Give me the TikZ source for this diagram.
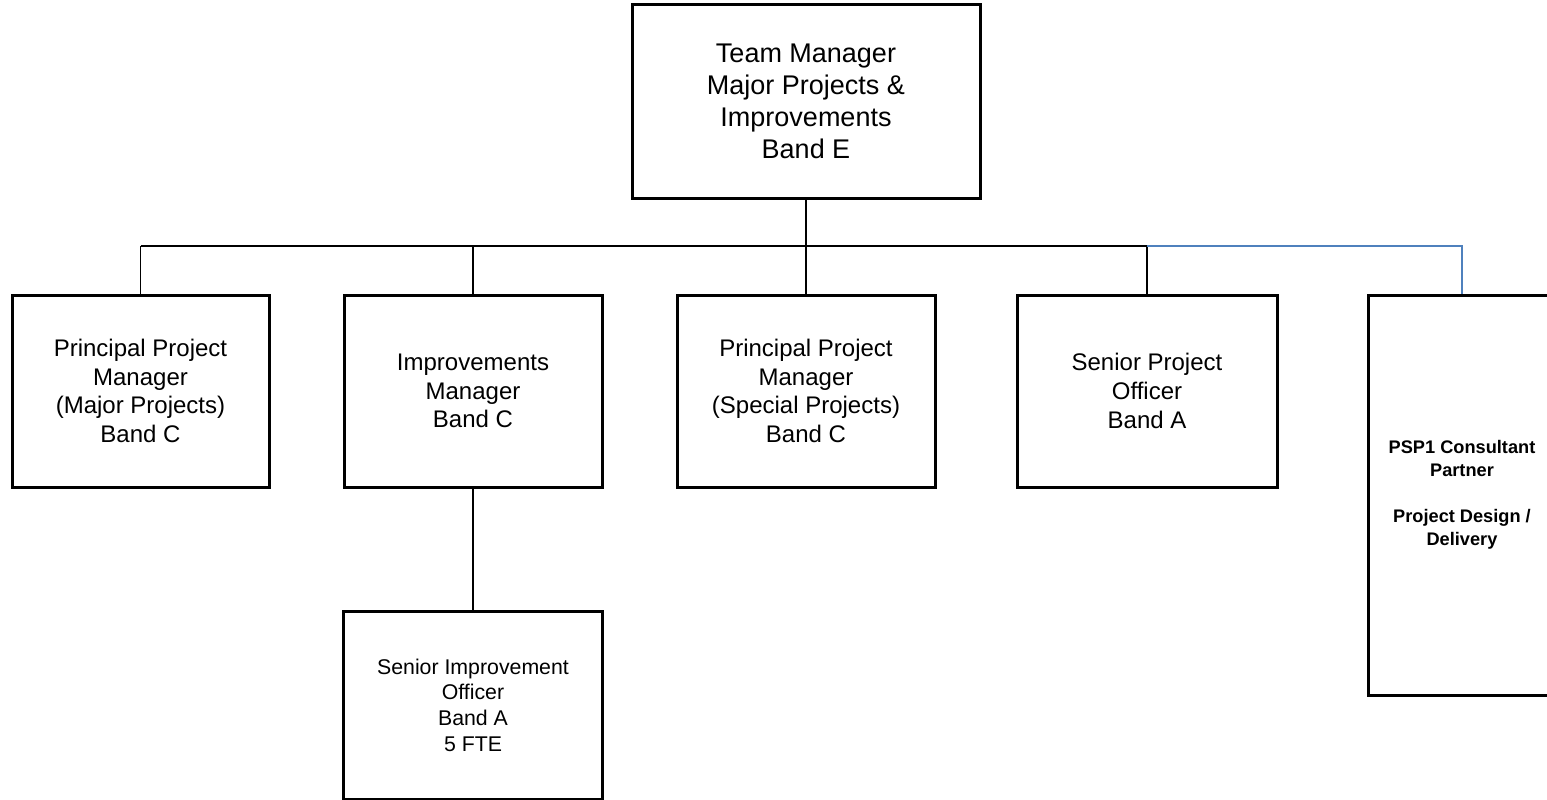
\documentclass[tikz,border=0pt]{standalone}
\usepackage{fontspec}
\setmainfont{Liberation Sans}
\begin{document}
\begin{tikzpicture}[x=1pt,y=-1pt,
  box/.style={draw, line width=3pt, align=center, inner sep=0pt, text=black},
  topfont/.style={font=\fontsize{27}{32}\selectfont},
  midfont/.style={font=\fontsize{24}{28.7}\selectfont},
  lowfont/.style={font=\fontsize{21.3}{25.7}\selectfont},
  pspfont/.style={font=\fontsize{18.2}{23}\selectfont\bfseries},
  conn/.style={draw, line width=1.3pt},
  topconn/.style={draw, line width=2.6pt},
  blueconn/.style={draw, line width=2pt, color=linkblue}]
\definecolor{linkblue}{RGB}{79,129,189}
\clip (0,0) rectangle (1547,800);
\fill[white] (0,0) rectangle (1547,800);

\node[box, topfont, minimum width=348pt, minimum height=193pt] (tm) at (806,101.5)
  {Team Manager\\Major Projects \&\\Improvements\\Band E};

\node[box, midfont, minimum width=257pt, minimum height=192pt] (ppm1) at (140.5,391)
  {Principal Project\\Manager\\(Major Projects)\\Band C};
\node[box, midfont, minimum width=258pt, minimum height=192pt] (im) at (473,391)
  {Improvements\\Manager\\Band C};
\node[box, midfont, minimum width=258pt, minimum height=192pt] (ppm2) at (806,391)
  {Principal Project\\Manager\\(Special Projects)\\Band C};
\node[box, midfont, minimum width=260pt, minimum height=192pt] (spo) at (1147,391)
  {Senior Project\\Officer\\Band A};
\node[box, pspfont, minimum width=188pt, minimum height=400pt] (psp) at (1462,495)
  {PSP1 Consultant\\Partner\\[23pt]Project Design /\\Delivery};
\node[box, lowfont, minimum width=259pt, minimum height=188pt] (sio) at (473,705)
  {Senior Improvement\\Officer\\Band A\\5 FTE};

\coordinate (bus) at (806,246);
\coordinate (busL) at (140.5,246);
\coordinate (busM) at (473,246);
\coordinate (busR) at (1147,246);
\coordinate (busB) at (1462,246);

\path[topconn] (tm.south) -- (bus);
\path[conn] (busL) -- (busR);
\path[conn] (busL) -- (ppm1.north);
\path[conn] (busM) -- (im.north);
\path[conn] (bus) -- (ppm2.north);
\path[conn] (busR) -- (spo.north);
\path[blueconn] (busR) -- (busB) -- (psp.north);
\path[conn] (im.south) -- (sio.north);
\end{tikzpicture}
\end{document}
